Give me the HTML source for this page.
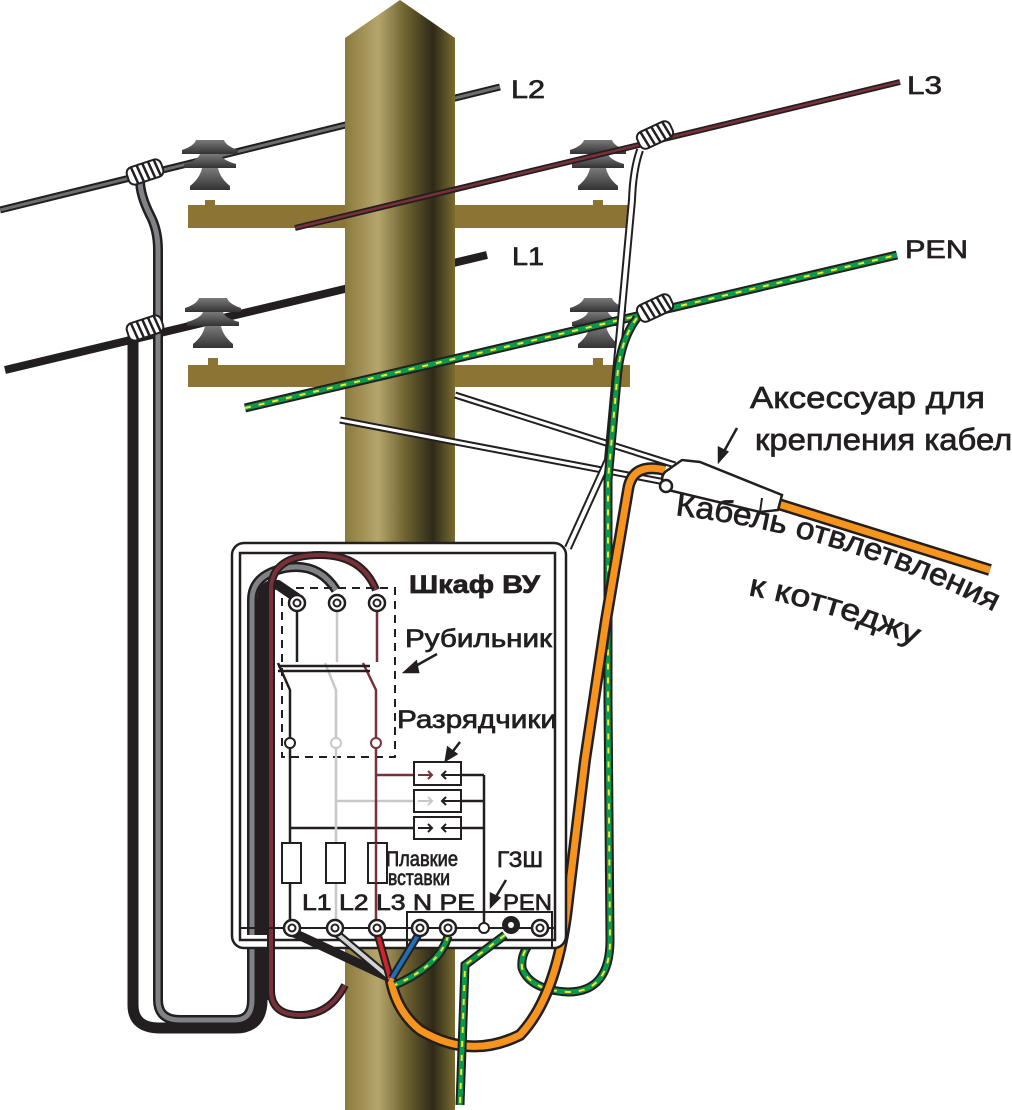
<!DOCTYPE html>
<html><head><meta charset="utf-8"><style>
html,body{margin:0;padding:0;background:#fff;width:1012px;height:1110px;overflow:hidden}
svg{display:block}
text{font-family:"Liberation Sans","DejaVu Sans",sans-serif;fill:#231f20;stroke:#231f20;stroke-width:0.7px}
</style></head><body>
<svg width="1012" height="1110" viewBox="0 0 1012 1110" xmlns="http://www.w3.org/2000/svg">
<defs>
<linearGradient id="pole" x1="0" x2="1" y1="0" y2="0">
<stop offset="0" stop-color="#8a7a3c"/><stop offset="0.3" stop-color="#b6a66c"/>
<stop offset="0.55" stop-color="#6e6230"/><stop offset="0.8" stop-color="#2e2a18"/>
<stop offset="1" stop-color="#7a6c30"/></linearGradient>
<linearGradient id="ins" x1="0" x2="0" y1="0" y2="1">
<stop offset="0" stop-color="#7a7a7a"/><stop offset="1" stop-color="#333"/></linearGradient>
<g id="insul">
<rect x="-5" y="40" width="10" height="28" fill="#8c7434"/>
<path d="M-14,-20 L14,-20 Q16,-14 28,-10 L28,-6 L-28,-6 L-28,-10 Q-16,-14 -14,-20Z" fill="url(#ins)"/>
<path d="M-10,-6 L10,-6 Q12,0 26,4 L26,8 L-26,8 L-26,4 Q-12,0 -10,-6Z" fill="url(#ins)"/>
<path d="M-8,8 L8,8 Q10,18 20,26 L20,30 L-20,30 L-20,26 Q-10,18 -8,8Z" fill="url(#ins)"/>
</g>
<g id="clamp">
<rect x="-18" y="-9" width="36" height="18" rx="6" fill="#fff" stroke="#231f20" stroke-width="2"/>
<path d="M-12,-9 L-10,9 M-6,-9 L-4,9 M0,-9 L2,9 M6,-9 L8,9 M12,-9 L14,9" stroke="#231f20" stroke-width="2.5"/>
</g>
<g id="term"><circle r="8" fill="#fff" stroke="#231f20" stroke-width="2.5"/><circle r="3.5" fill="#fff" stroke="#231f20" stroke-width="2"/></g>
<path id="arc1" d="M675,515 Q850,535 1010,620"/>
<path id="arc2" d="M748,595 Q840,612 925,650"/>
</defs>

<line x1="0" y1="210" x2="500" y2="87" stroke="#231f20" stroke-width="7"/>
<line x1="0" y1="210" x2="500" y2="87" stroke="#6d6e70" stroke-width="3"/>
<line x1="5" y1="370" x2="487" y2="255" stroke="#231f20" stroke-width="8"/>

<rect x="188" y="205" width="442" height="23" fill="#8c7434"/>
<rect x="188" y="365" width="442" height="22" fill="#8c7434"/>

<path d="M345,38 L400,0 L455,38 L455,1110 L345,1110Z" fill="url(#pole)"/>

<use href="#insul" x="210" y="160"/>
<use href="#insul" x="598" y="160"/>
<use href="#insul" x="213" y="318"/>
<use href="#insul" x="598" y="318"/>

<line x1="295" y1="228" x2="900" y2="82" stroke="#231f20" stroke-width="6"/>
<line x1="295" y1="228" x2="900" y2="82" stroke="#7a3038" stroke-width="2.5"/>
<line x1="245" y1="408" x2="897" y2="255" stroke="#231f20" stroke-width="9"/>
<line x1="245" y1="408" x2="897" y2="255" stroke="#0a9a4a" stroke-width="5"/>
<line x1="245" y1="408" x2="897" y2="255" stroke="#f2e830" stroke-width="2" stroke-dasharray="6 8"/>

<path d="M455,395 L675,465" stroke="#231f20" stroke-width="7" fill="none"/>
<path d="M455,395 L675,465" stroke="#fff" stroke-width="3" fill="none"/>
<path d="M340,420 L665,482" stroke="#231f20" stroke-width="7" fill="none"/>
<path d="M340,420 L665,482" stroke="#fff" stroke-width="3" fill="none"/>

<path d="M640,150 Q633,170 632,200 L608,460 L568,548" stroke="#231f20" stroke-width="8" fill="none"/>
<path d="M640,150 Q633,170 632,200 L608,460 L568,548" stroke="#fff" stroke-width="4" fill="none"/>

<path d="M140,180 Q140,195 150,215 Q158,230 158,250 L158,1000 Q158,1020 180,1020 L235,1020 Q252,1020 252,1000 L252,590" stroke="#231f20" stroke-width="10" fill="none"/>
<path d="M140,180 Q140,195 150,215 Q158,230 158,250 L158,1000 Q158,1020 180,1020 L235,1020 Q252,1020 252,1000 L252,590" stroke="#808285" stroke-width="5" fill="none"/>
<path d="M133,335 L133,1005 Q133,1028 160,1028 L235,1028 Q262,1028 262,1000 L262,590" stroke="#231f20" stroke-width="11" fill="none"/>
<use href="#clamp" transform="translate(145,172) rotate(-18)"/>
<use href="#clamp" transform="translate(145,328) rotate(-18)"/>

<!-- green drop -->
<g fill="none">
<path d="M637,318 Q620,340 617,380 L608,480 L608,700 L610,940 Q610,992 568,992 Q530,990 522,968 Q520,948 540,935" stroke="#231f20" stroke-width="9"/>
<path d="M637,318 Q620,340 617,380 L608,480 L608,700 L610,940 Q610,992 568,992 Q530,990 522,968 Q520,948 540,935" stroke="#0a9a4a" stroke-width="5"/>
<path d="M637,318 Q620,340 617,380 L608,480 L608,700 L610,940 Q610,992 568,992 Q530,990 522,968 Q520,948 540,935" stroke="#f2e830" stroke-width="2" stroke-dasharray="6 8"/>
</g>
<use href="#clamp" transform="translate(655,135) rotate(-25)"/>
<use href="#clamp" transform="translate(655,308) rotate(-25)"/>

<!-- orange cable -->
<path d="M990,570 L772,502" stroke="#231f20" stroke-width="12" fill="none"/>
<path d="M990,570 L772,502" stroke="#f7941d" stroke-width="7" fill="none"/>
<path d="M665,470 Q632,462 628,490 L606,620 L585,760 L568,900 Q558,995 520,1035 Q470,1060 420,1030 Q395,1010 390,975" stroke="#231f20" stroke-width="12" fill="none"/>
<path d="M665,470 Q632,462 628,490 L606,620 L585,760 L568,900 Q558,995 520,1035 Q470,1060 420,1030 Q395,1010 390,975" stroke="#f7941d" stroke-width="7" fill="none"/>

<path d="M665,472 L682,460 L700,462 L782,495 L778,510 L760,512 L668,490 Q658,480 665,472Z" fill="#fff" stroke="#231f20" stroke-width="2.5"/>
<line x1="760" y1="512" x2="762" y2="498" stroke="#231f20" stroke-width="2"/>
<circle cx="666" cy="486" r="6" fill="#fff" stroke="#231f20" stroke-width="2.5"/>

<!-- cabinet -->
<rect x="232" y="543" width="334" height="405" rx="12" fill="#fff" stroke="#231f20" stroke-width="2.5"/>
<rect x="240" y="553" width="315" height="387" fill="#fff" stroke="#231f20" stroke-width="2.5"/>
<path d="M252,935 L252,600 Q252,575 285,568 Q318,562 336,590" stroke="#231f20" stroke-width="10" fill="none"/>
<path d="M252,935 L252,600 Q252,575 285,568 Q318,562 336,590" stroke="#808285" stroke-width="5" fill="none"/>
<path d="M262,935 L262,600 Q262,583 278,585 L297,598" stroke="#231f20" stroke-width="10" fill="none"/>
<path d="M271,1000 L271,590 Q271,555 320,555 Q362,555 376,590" stroke="#231f20" stroke-width="8" fill="none"/>
<path d="M271,1000 L271,590 Q271,555 320,555 Q362,555 376,590" stroke="#7a3038" stroke-width="4" fill="none"/>
<path d="M271,990 Q271,1015 300,1015 Q330,1015 345,985" stroke="#231f20" stroke-width="8" fill="none"/>
<path d="M271,990 Q271,1015 300,1015 Q330,1015 345,985" stroke="#7a3038" stroke-width="4" fill="none"/>

<rect x="282" y="588" width="113" height="169" fill="none" stroke="#231f20" stroke-width="2" stroke-dasharray="8 6"/>
<g stroke-width="2.5" fill="none">
<path d="M297,603 L297,662 M278,663 L290,690 L290,743 M290,743 L290,928 M290,828 L414,828" stroke="#231f20"/>
<path d="M337,603 L337,662 M325,663 L336,690 L336,743 L336,928 M336,801 L414,801" stroke="#c7c8ca"/>
<path d="M377,603 L377,662 M363,663 L376,690 L376,743 L376,928 M376,775 L414,775" stroke="#7a3038"/>
<path d="M278,666 L370,666 M278,671 L370,671" stroke="#231f20"/>
<path d="M461,775 L484,775 M461,801 L484,801 M461,828 L484,828 M484,775 L484,928" stroke="#231f20"/>
</g>
<use href="#term" x="297" y="603"/><use href="#term" x="337" y="603"/><use href="#term" x="377" y="603"/>
<circle cx="290" cy="743" r="5" fill="#fff" stroke="#231f20" stroke-width="2"/>
<circle cx="336" cy="743" r="5" fill="#fff" stroke="#c7c8ca" stroke-width="2"/>
<circle cx="376" cy="743" r="5" fill="#fff" stroke="#7a3038" stroke-width="2"/>
<g fill="#fff" stroke="#231f20" stroke-width="2">
<rect x="414" y="762" width="47" height="23"/><rect x="414" y="790" width="47" height="22"/><rect x="414" y="817" width="47" height="22"/>
</g>
<g fill="none" stroke-width="2">
<path d="M418,775 L432,775 M428,771 L432,775 L428,779" stroke="#7a3038"/>
<path d="M418,801 L432,801 M428,797 L432,801 L428,805" stroke="#c7c8ca"/>
<path d="M418,828 L432,828 M428,824 L432,828 L428,832" stroke="#231f20"/>
<path d="M446,771 L442,775 L446,779 M442,775 L461,775 M446,797 L442,801 L446,805 M442,801 L461,801 M446,824 L442,828 L446,832 M442,828 L461,828" stroke="#231f20"/>
</g>
<g fill="#fff" stroke="#231f20" stroke-width="2">
<rect x="282" y="843" width="19" height="40"/><rect x="326" y="843" width="19" height="40"/><rect x="368" y="843" width="19" height="40"/>
</g>
<line x1="376" y1="843" x2="376" y2="883" stroke="#7a3038" stroke-width="2.5"/>
<line x1="240" y1="928" x2="555" y2="928" stroke="#231f20" stroke-width="2"/>
<rect x="407" y="912" width="145" height="36" fill="none" stroke="#231f20" stroke-width="2"/>
<path d="M292,932 L390,978" stroke="#231f20" stroke-width="9"/>
<path d="M335,932 L390,978" stroke="#231f20" stroke-width="8"/><path d="M335,932 L390,978" stroke="#d1d3d4" stroke-width="4"/>
<path d="M377,932 L390,978" stroke="#231f20" stroke-width="8"/><path d="M377,932 L390,978" stroke="#d2232a" stroke-width="4"/>
<path d="M420,932 L392,978" stroke="#231f20" stroke-width="8"/><path d="M420,932 L392,978" stroke="#1d6fb8" stroke-width="4"/>
<g fill="none">
<path d="M448,936 Q440,965 395,985" stroke="#231f20" stroke-width="9"/>
<path d="M448,936 Q440,965 395,985" stroke="#0a9a4a" stroke-width="5"/>
<path d="M448,936 Q440,965 395,985" stroke="#f2e830" stroke-width="2" stroke-dasharray="5 7"/>
<path d="M505,935 L465,965 L460,1105" stroke="#231f20" stroke-width="9"/>
<path d="M505,935 L465,965 L460,1105" stroke="#0a9a4a" stroke-width="5"/>
<path d="M505,935 L465,965 L460,1105" stroke="#f2e830" stroke-width="2" stroke-dasharray="6 8"/>
</g>
<use href="#term" x="292" y="928"/><use href="#term" x="335" y="928"/><use href="#term" x="377" y="928"/>
<use href="#term" x="420" y="928"/><use href="#term" x="448" y="928"/><use href="#term" x="540" y="928"/>
<circle cx="484" cy="928" r="5" fill="#fff" stroke="#231f20" stroke-width="2"/>
<circle cx="511" cy="925" r="9" fill="#231f20"/><circle cx="511" cy="925" r="3" fill="#fff"/>

<g stroke="#231f20" stroke-width="2.5" fill="#231f20">
<line x1="437" y1="654" x2="412" y2="668"/><path d="M405,672 L416,662 L418,672Z"/>
<line x1="460" y1="742" x2="450" y2="755"/><path d="M446,760 L448,748 L456,754Z"/>
<line x1="506" y1="880" x2="494" y2="900"/><path d="M491,906 L491,894 L499,898Z"/>
<line x1="737" y1="428" x2="722" y2="455"/><path d="M719,461 L719,448 L727,452Z"/>
</g>

<g font-size="25">
<text x="511" y="98" textLength="34" lengthAdjust="spacingAndGlyphs">L2</text>
<text x="907" y="94" textLength="35" lengthAdjust="spacingAndGlyphs">L3</text>
<text x="512" y="265" textLength="32" lengthAdjust="spacingAndGlyphs">L1</text>
<text x="905" y="258" textLength="63" lengthAdjust="spacingAndGlyphs">PEN</text>
</g>
<text x="750" y="408" font-size="31" textLength="235" lengthAdjust="spacingAndGlyphs">Аксессуар для</text>
<text x="755" y="450" font-size="31" textLength="275" lengthAdjust="spacingAndGlyphs">крепления кабеля</text>
<text font-size="31"><textPath href="#arc1" textLength="335" lengthAdjust="spacingAndGlyphs">Кабель отвлетвления</textPath></text>
<text font-size="31"><textPath href="#arc2" textLength="175" lengthAdjust="spacingAndGlyphs">к коттеджу</textPath></text>
<text x="409" y="593" font-size="25" font-weight="bold" textLength="131" lengthAdjust="spacingAndGlyphs">Шкаф ВУ</text>
<text x="405" y="647" font-size="25" textLength="147" lengthAdjust="spacingAndGlyphs">Рубильник</text>
<text x="397" y="728" font-size="25" textLength="160" lengthAdjust="spacingAndGlyphs">Разрядчики</text>
<text x="386" y="866" font-size="21" textLength="72" lengthAdjust="spacingAndGlyphs">Плавкие</text>
<text x="388" y="885" font-size="21" textLength="62" lengthAdjust="spacingAndGlyphs">вставки</text>
<text x="497" y="867" font-size="22" textLength="46" lengthAdjust="spacingAndGlyphs">ГЗШ</text>
<text x="302" y="910" font-size="22" textLength="173" lengthAdjust="spacingAndGlyphs">L1 L2 L3 N  PE</text>
<text x="503" y="910" font-size="22" textLength="49" lengthAdjust="spacingAndGlyphs">PEN</text>
</svg>
</body></html>
